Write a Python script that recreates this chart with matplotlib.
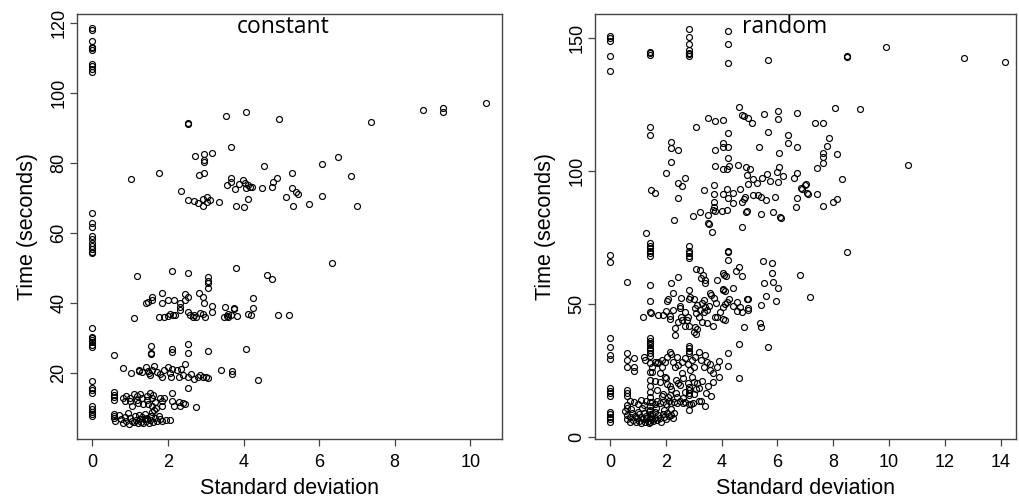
#!/usr/bin/env python3

import matplotlib
matplotlib.use("Agg")
import matplotlib.pyplot as plt

# ---- painel "constant" ----
const_sd0_time = [118.5, 118, 115, 113.3, 112.8, 112.3, 108.2, 107.6, 107, 106,
                  65.6, 62.8, 61.6, 59.1, 58.2, 57.2, 56.3, 55.3, 54.7, 54.2,
                  32.8, 30.4, 29.9, 29.4, 28.9, 28, 27.5,
                  17.7, 15.8, 15.1, 14.4, 10.7, 9.6, 8.9, 8.3, 7.7]

const_alto = [(2.52, 91.5), (2.52, 91.1), (3.53, 93.4), (4.06, 94.6), (4.95, 92.7), (3.68, 84.6),
              (2.72, 81.9), (2.95, 82.5), (2.95, 81), (2.95, 80.3), (3.17, 82.9), (4.55, 79.2),
              (1.01, 75.4), (1.75, 77.3), (2.35, 72.1), (2.52, 69.5), (2.8, 68.6), (2.94, 69.7),
              (2.94, 67.8), (3.03, 68.9), (3.03, 70.4), (2.83, 76.7), (2.95, 77.2), (3.35, 68.9),
              (3.55, 73.7), (3.68, 75.6), (3.68, 74.6), (3.77, 72.5), (3.89, 73.9), (3.99, 75.1),
              (4.04, 74.4), (4.06, 72.8), (4.13, 73.7), (4.18, 73.2), (4.22, 73.2), (3.8, 67.6),
              (4.01, 67.4), (4.11, 69.8), (4.5, 72.8), (4.75, 73.2), (4.79, 74.6), (4.88, 75.8),
              (5.12, 70.2), (5.27, 77.2), (5.29, 72.9), (5.32, 67.6), (7.37, 91.8), (8.76, 95.1),
              (9.29, 95.8), (9.29, 94.6), (10.43, 97.2), (6.07, 79.7), (6.49, 81.6), (6.84, 76.3),
              (5.4, 71.7), (5.45, 71.2), (6.07, 70.7), (5.73, 68.2), (7.01, 67.8), (2.7, 69.3),
              (3.1, 69.5)]

const_meio = [(1.17, 47.7), (2.1, 49.2), (2.52, 48.7), (3.07, 47.4), (3.07, 46.4), (3.07, 45.7),
              (3.07, 44.3), (3.8, 50.1), (4.61, 48), (4.75, 47), (1.83, 42.9), (1.57, 41.6),
              (1.57, 41), (1.42, 39.9), (1.46, 40.4), (2.17, 41), (2.0, 41), (1.83, 39.9),
              (2.45, 42.6), (2.52, 41.6), (2.32, 39.9), (2.32, 38.8), (2.32, 38), (2.45, 40.8),
              (2.82, 42.9), (2.94, 41.6), (2.96, 40.1), (3.17, 39.2), (3.51, 38.9), (3.75, 38.7),
              (3.75, 38.2), (4.26, 41.3), (4.26, 38.6), (4.92, 36.7), (5.2, 36.7), (1.1, 35.6),
              (1.75, 36.1), (1.9, 36.1), (2.05, 36.8), (2.12, 36.6), (2.18, 36.6), (2.54, 37.5),
              (2.58, 36.6), (2.67, 36.1), (2.73, 35.9), (2.85, 37.2), (2.94, 37), (2.98, 36.1),
              (3.16, 37.5), (3.47, 36), (3.55, 36.3), (3.6, 35.9), (3.67, 36.5), (3.84, 36.4),
              (4.13, 37), (4.2, 36.6), (6.35, 51.3), (2.0, 36.2), (2.7, 36.6), (3.58, 37)]

const_vinte = [(0.58, 25.1), (1.55, 27.7), (1.55, 25.8), (1.55, 25.4), (2.1, 27), (2.1, 26),
               (2.52, 28.4), (2.52, 25.8), (3.07, 26.2), (4.07, 27), (0.82, 21.3), (1.02, 20.1),
               (1.22, 20.8), (1.24, 20.5), (1.42, 21.8), (1.46, 20.5), (1.52, 19.4), (1.59, 21),
               (1.64, 22), (1.79, 19.6), (1.83, 19), (1.9, 20.9), (1.99, 21.6), (2.08, 18.8),
               (2.1, 21.2), (2.23, 21), (2.3, 18.8), (2.35, 21.2), (2.45, 22.6), (2.52, 19),
               (2.7, 18.3), (2.79, 19), (2.85, 19.4), (2.94, 19), (3.01, 18.8), (3.07, 18.6),
               (3.4, 21), (3.69, 20.5), (3.69, 19.8), (4.37, 17.9), (1.3, 20.3), (1.5, 20),
               (1.7, 20.2), (2.05, 20), (2.4, 19.5), (2.6, 19.8)]

const_baixo = [(2.52, 15.6), (0.58, 14.6), (0.58, 13.7), (0.58, 12.3), (0.56, 13.1), (0.82, 12.8),
               (0.86, 11.9), (1.0, 12.8), (1.0, 11.9), (1.04, 10.5), (1.17, 13.3), (1.17, 12.4),
               (1.21, 11.4), (1.3, 12.8), (1.35, 11), (1.44, 13.3), (1.44, 12.4), (1.48, 11.2),
               (1.53, 14.2), (1.57, 12.8), (1.57, 10.5), (1.66, 11.6), (1.79, 12.8), (1.83, 11.9),
               (1.85, 10.5), (2.1, 14.2), (2.1, 11.9), (2.15, 10.5), (2.32, 10.7), (2.45, 11),
               (2.74, 10.3), (0.9, 13.5), (1.1, 13.9), (1.25, 14.1), (1.6, 13.8), (1.9, 13.0),
               (2.3, 11.8), (2.4, 11.3),
               (0.56, 8.3), (0.56, 7.6), (0.56, 7), (0.6, 6.3), (0.7, 8), (0.75, 6.8), (0.8, 5.8),
               (0.85, 7.3), (0.9, 6.2), (0.95, 8.5), (0.98, 5.5), (1.0, 7), (1.05, 6.3), (1.1, 5.9),
               (1.12, 7.6), (1.15, 6.6), (1.2, 5.6), (1.22, 8), (1.25, 6.9), (1.28, 6.1), (1.3, 7.4),
               (1.35, 5.7), (1.38, 6.8), (1.4, 8.3), (1.42, 6.2), (1.45, 7.2), (1.5, 5.8), (1.52, 6.6),
               (1.55, 7.8), (1.58, 8.8), (1.6, 6.1), (1.62, 9.5), (1.65, 7), (1.68, 10), (1.7, 6.4),
               (1.75, 7.6), (1.8, 6.8), (1.85, 6.2), (1.95, 6.7), (2.05, 6.5)]

# ---- painel "random" ----
rand_sd0_time = [150.8, 149.9, 149, 143.4, 137.4, 68.4, 65.9, 37.1, 34, 30.8, 29.2,
                 18.3, 17.4, 16.4, 15.4, 9.5, 8.7, 7.7, 6.7, 5.8]

rand_col14_time = [144.8, 144.2, 143.6, 116.6, 113.5, 72.8, 71.8, 71, 70.1, 69.1, 68.1, 57.1,
                   51.1, 46.8, 37.1, 36.2, 35.3, 34.4, 33.5, 32.6, 31.6, 30.5, 28, 24.5,
                   21.5, 19, 17, 15, 13, 11.5, 10, 8.5, 7, 5.5]
rand_col28_time = [153.3, 150.5, 147.6, 145.5, 144.5, 143.9, 143.2, 71.8, 70.1, 69.1, 68.1, 67.2,
                   34.2, 33.4, 32.5, 31.5, 18.8, 17.6, 16.4, 15.8, 12.4, 10.2]
rand_col42_time = [152.7, 147.6, 140.7, 70.1, 69.4, 66.6]

rand_alto = [(5.67, 141.7), (9.89, 146.7), (8.51, 143.4), (8.51, 143), (12.7, 142.6), (14.16, 140.8),
             (8.06, 123.8), (8.96, 123.2), (7.35, 118.1), (7.65, 118.1), (7.83, 112.5), (7.77, 109.3),
             (7.65, 106.8), (7.65, 105.3), (7.65, 103), (7.41, 101.2), (8.13, 106.3), (10.67, 102.2),
             (8.3, 96.9), (7.03, 95), (6.87, 93.4), (7.11, 91.2), (7.41, 91.2), (7.65, 86.8),
             (8.0, 88.3), (8.13, 89.6), (4.63, 124.2), (4.74, 121), (4.8, 120.7), (4.96, 119.8),
             (5.08, 118.1), (5.5, 121.4), (6.01, 122.7), (6.01, 119.4), (6.69, 121.6), (3.52, 119.8),
             (3.76, 118.8), (4.04, 119.1), (3.08, 116.4), (4.22, 114.4), (5.67, 114.8), (6.37, 113.5),
             (6.37, 110.6), (6.69, 108.9), (6.07, 106.6), (2.17, 110.9), (2.17, 108.6), (2.45, 108),
             (2.17, 103.5), (3.76, 108), (4.04, 110.6), (4.04, 108.9), (4.24, 108.9), (5.35, 108.9),
             (4.21, 104.7), (4.04, 100.6), (4.19, 100.6), (4.28, 101.8), (4.58, 102.2), (4.88, 101.6),
             (5.02, 100.6), (3.76, 101.8), (2.01, 99.4), (2.45, 95.6), (2.57, 94.4), (2.69, 97.5),
             (1.47, 92.9), (1.61, 91.7), (2.45, 89.8), (3.38, 92.9), (3.74, 94.8), (3.74, 91.3),
             (4.04, 91.3), (4.2, 93.2), (4.4, 91.7), (4.22, 89.8), (4.66, 93.2), (4.92, 98.6),
             (5.11, 97), (5.43, 97.3), (5.62, 99), (4.96, 95.1), (5.26, 95.4), (5.74, 96.1),
             (6.01, 95.7), (5.97, 99.5), (6.07, 101.5), (6.21, 98.2), (6.6, 97.3), (6.69, 99.2),
             (6.83, 93.6), (6.99, 94.8), (7.07, 91.7), (2.3, 81.6), (3.74, 88.2), (3.74, 86.4),
             (3.68, 85.4), (3.76, 84.8), (4.0, 84.8), (4.2, 85.4), (3.52, 83.5), (3.52, 80.4),
             (3.23, 84.4), (2.99, 82.9), (4.4, 87.9), (4.72, 88.5), (4.8, 89.4), (4.84, 90.4),
             (4.87, 84.7), (4.92, 85.1), (5.14, 91), (5.32, 91), (5.4, 90.4), (5.4, 83.8),
             (5.59, 88.9), (5.85, 84.7), (6.09, 82.8), (6.13, 82.2), (5.91, 90.1), (6.69, 89.7),
             (6.67, 86.5), (4.72, 78.8), (3.56, 79.9), (3.67, 76.9), (1.29, 76.5)]

rand_meio = [(0.6, 58.4), (5.49, 66.2), (5.79, 65.3), (5.79, 61.5), (6.79, 60.9), (5.52, 57.8),
             (5.85, 58.4), (6.03, 55.9), (5.59, 53), (5.95, 51.1), (5.4, 49.6), (4.8, 41.5),
             (5.4, 41.5), (5.38, 43), (4.63, 34.8), (5.67, 33.9), (7.17, 52.8), (8.48, 69.7),
             (1.17, 45.2), (1.46, 46.5), (1.71, 45.9), (1.89, 45.9), (2.01, 47.5), (2.15, 45.5),
             (2.15, 44.2), (2.27, 47.8), (2.49, 48.4), (2.53, 45.2), (2.57, 44), (2.49, 49.3),
             (2.69, 46.8), (2.81, 45.2), (2.75, 44), (2.69, 41.7), (2.84, 41.7), (2.33, 40.8),
             (2.33, 38.3), (2.45, 43.3), (2.25, 54.2), (2.09, 51.7), (2.03, 51.1), (2.19, 58),
             (2.45, 60), (2.53, 52.1), (2.84, 55.3), (2.84, 51.7), (2.87, 52.7), (3.02, 51.7),
             (3.11, 49.6), (3.05, 48.4), (3.08, 46.5), (3.17, 45.2), (3.23, 47.7), (3.35, 46.8),
             (3.41, 48.8), (3.47, 47.7), (3.29, 50.5), (3.35, 51.5), (3.53, 49.3), (3.61, 53.4),
             (3.73, 52.1), (3.8, 50.5), (3.58, 54), (3.76, 45.2), (3.82, 45), (3.94, 46.8),
             (4.06, 48.8), (4.12, 50.0), (4.18, 50.9), (4.28, 51.7), (4.4, 55.9), (4.42, 49.3),
             (4.54, 50.9), (4.54, 47.5), (4.66, 48.8), (4.72, 47.1), (4.9, 51.7), (4.96, 51.7),
             (4.96, 48.4), (4.96, 47.7), (4.12, 44), (4.04, 44.2), (3.7, 41.7), (3.47, 42.7),
             (3.29, 43.3), (3.05, 41.2), (3.02, 39.6), (3.08, 38.7), (3.11, 40.5), (3.08, 63),
             (3.23, 62.8), (3.25, 59.6), (3.41, 59), (3.41, 57.8), (3.32, 60.9), (3.82, 59.2),
             (4.04, 61.5), (4.1, 60.9), (4.16, 60.5), (4.52, 62.5), (4.63, 63.8), (4.72, 60.5),
             (4.04, 55.5), (4.06, 55.3), (4.12, 55)]

rand_baixo = [(0.6, 31.4), (0.6, 28.9), (0.6, 26.2), (0.84, 29.6), (0.84, 26.2), (0.84, 24.9),
              (1.2, 30.2), (1.26, 28.9), (1.61, 28.3), (1.73, 28.3), (1.85, 28.9), (1.97, 28.3),
              (2.03, 30.2), (2.15, 32), (2.19, 31.2), (2.27, 28.3), (2.39, 30.2), (2.45, 27.0),
              (2.57, 28.3), (2.69, 29.6), (2.81, 27.6), (2.93, 28.9), (3.05, 30.2), (3.17, 32.1),
              (3.26, 28.9), (3.41, 30.8), (3.47, 28.3), (3.59, 27.4), (3.83, 26.3), (3.92, 28.6),
              (4.24, 31.7), (4.24, 26.6), (4.62, 22.3), (1.49, 26.4), (1.49, 24.5), (1.67, 27.7),
              (1.85, 26.4), (1.79, 23.9), (1.97, 22.7), (2.33, 26.4), (2.57, 23.9), (2.87, 25.2),
              (2.93, 22.7), (3.01, 26.4), (3.35, 26.4), (3.58, 25.2), (3.7, 23.9), (1.6, 21),
              (1.8, 20.5), (2.0, 22), (2.2, 18), (2.5, 19.5), (2.6, 22), (2.7, 17), (3.0, 16),
              (3.2, 18.5), (3.3, 21), (3.5, 19), (3.7, 20.5), (3.9, 22.5), (1.7, 17.5), (1.9, 16),
              (2.4, 15), (2.6, 14.5), (3.6, 15.5), (2.45, 20.2), (2.36, 21.4), (2.05, 20),
              (2.15, 19), (2.81, 20.2), (3.01, 20.8), (3.11, 20.4), (3.08, 17.9), (2.97, 12.9),
              (3.25, 13.6), (3.44, 16.4), (2.36, 16.4), (2.15, 15.8), (2.09, 15.2), (1.85, 15.4),
              (0.6, 17.5), (0.6, 16.5), (0.6, 15.5), (0.6, 12), (0.6, 11),
              (0.7, 13.5), (0.85, 13), (1.0, 12.5), (1.1, 13.8), (1.2, 12.2), (1.3, 13.5),
              (1.5, 13), (1.6, 12.5), (1.7, 13.6), (1.8, 12.8), (1.9, 13.2), (2.0, 12.5),
              (2.1, 13.6), (2.2, 12.9), (2.3, 13.3), (2.4, 12.7), (2.5, 13.5), (2.6, 12.9),
              (2.7, 13.3), (2.9, 12.5), (3.2, 13.4), (3.4, 11.5),
              (0.55, 9.8), (0.6, 8.2), (0.62, 6.8), (0.7, 7.5), (0.72, 5.8), (0.8, 9), (0.82, 6.5),
              (0.9, 8), (0.92, 5.5), (0.95, 7), (1.0, 9.5), (1.02, 6.2), (1.05, 8.5), (1.1, 5.2),
              (1.12, 7.4), (1.18, 6.6), (1.2, 9), (1.25, 5.8), (1.28, 8), (1.3, 7), (1.35, 6.2),
              (1.38, 9.8), (1.4, 5.4), (1.45, 7.8), (1.5, 6.6), (1.52, 8.8), (1.55, 5.9), (1.6, 7.2),
              (1.62, 9.4), (1.68, 6.4), (1.72, 8.1), (1.78, 7), (1.82, 5.8), (1.88, 8.6), (1.92, 7.5),
              (2.0, 6.8), (2.05, 9), (2.1, 7.8), (2.18, 8.4), (2.25, 7.2), (2.3, 9.2), (0.75, 10.5),
              (1.15, 10.8), (1.65, 11), (1.95, 10.3), (2.2, 10.6)]


def juntar(coluna_x, tempos, grupos):
    xs = [coluna_x] * len(tempos)
    ys = list(tempos)
    for grupo in grupos:
        xs += [p[0] for p in grupo]
        ys += [p[1] for p in grupo]
    return xs, ys


def desenhar(ax, xs, ys, titulo, xlim, ylim, xticks, yticks, pos_titulo):
    ax.plot(xs, ys, linestyle="none", marker="o", markersize=4.3,
            markerfacecolor="none", markeredgecolor="black", markeredgewidth=0.85)
    ax.set_xlim(*xlim)
    ax.set_ylim(*ylim)
    ax.set_xticks(xticks)
    ax.set_yticks(yticks)
    for lado in ax.spines.values():
        lado.set_color("#444444")
        lado.set_linewidth(1.0)
    ax.tick_params(direction="out", length=5, width=0.9, color="#444444", labelsize=13)
    ax.tick_params(axis="x", pad=6)
    ax.tick_params(axis="y", pad=2)
    for rotulo in ax.get_yticklabels():
        rotulo.set_rotation(90)
        rotulo.set_va("center")
    ax.set_xlabel("Standard deviation", fontsize=15.5, labelpad=5)
    ax.set_ylabel("Time (seconds)", fontsize=15.5, labelpad=9)
    ax.text(pos_titulo, 0.969, titulo, transform=ax.transAxes, ha="center", va="center",
            fontsize=16.5, family="Open Sans")


plt.rcParams["font.family"] = ["Liberation Sans", "DejaVu Sans"]

fig = plt.figure(figsize=(10.19, 5.01), dpi=100)
ax1 = fig.add_axes([77.3 / 1019, 62 / 501, 425 / 1019, 425 / 501])
ax2 = fig.add_axes([595 / 1019, 62 / 501, 421 / 1019, 425 / 501])

x1, y1 = juntar(0, const_sd0_time, [const_alto, const_meio, const_vinte, const_baixo])
desenhar(ax1, x1, y1, "constant", (-0.40, 10.85), (1.14, 122.6),
         [0, 2, 4, 6, 8, 10], [20, 40, 60, 80, 100, 120], 0.484)

x2, y2 = juntar(0, rand_sd0_time, [rand_alto, rand_meio, rand_baixo])
x2 += [1.43] * len(rand_col14_time) + [2.83] * len(rand_col28_time) + [4.22] * len(rand_col42_time)
y2 += rand_col14_time + rand_col28_time + rand_col42_time
desenhar(ax2, x2, y2, "random", (-0.54, 14.55), (-0.75, 159.0),
         [0, 2, 4, 6, 8, 10, 12, 14], [0, 50, 100, 150], 0.451)

fig.savefig("out.png", dpi=100)
